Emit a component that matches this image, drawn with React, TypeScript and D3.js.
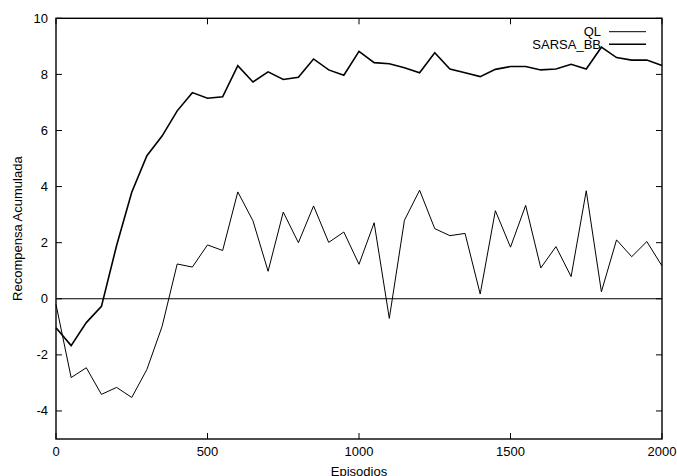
import React from "react";
import * as d3 from "d3";

const episodes: number[] = d3.range(0, 2001, 50);

const qlValues: number[] = [
  -0.2, -2.81, -2.46, -3.41, -3.16, -3.52, -2.52, -0.99, 1.24, 1.13,
  1.92, 1.72, 3.81, 2.78, 0.98, 3.09, 2.0, 3.31, 2.01, 2.38,
  1.23, 2.71, -0.7, 2.8, 3.87, 2.5, 2.25, 2.33, 0.17, 3.14,
  1.84, 3.33, 1.1, 1.86, 0.79, 3.85, 0.25, 2.1, 1.5, 2.04, 1.17,
];

const sarsaValues: number[] = [
  -1.03, -1.67, -0.85, -0.27, 1.9, 3.8, 5.1, 5.8, 6.7, 7.35,
  7.15, 7.2, 8.31, 7.73, 8.09, 7.82, 7.9, 8.55, 8.16, 7.97,
  8.82, 8.42, 8.38, 8.24, 8.06, 8.77, 8.19, 8.06, 7.92, 8.18,
  8.28, 8.28, 8.16, 8.19, 8.36, 8.19, 8.97, 8.6, 8.51, 8.51, 8.32,
];

const xTicks: number[] = [0, 500, 1000, 1500, 2000];
const yTicks: number[] = [-4, -2, 0, 2, 4, 6, 8, 10];
const seriesNames: string[] = ["QL", "SARSA_BB"];

const W = 677;
const H = 476;
const left = 56;
const right = 662;
const top = 18.3;
const bottom = 439;
const font = "'Liberation Sans', Arial, Helvetica, sans-serif";

export default function App() {
  const x = d3.scaleLinear().domain([0, 2000]).range([left, right]);
  const y = d3.scaleLinear().domain([-5, 10]).range([bottom, top]);
  const line = d3
    .line<number>()
    .x((_, i) => x(episodes[i]))
    .y((d) => y(d));

  const tickLen = 6;
  return (
    <svg
      width={W}
      height={H}
      style={{ position: "absolute", left: 0, top: 0, background: "#fff" }}
      fontFamily={font}
    >
      <rect x={0} y={0} width={W} height={H} fill="#fff" />
      {/* zero line */}
      <line x1={left} x2={right} y1={y(0)} y2={y(0)} stroke="#000" strokeWidth={1.1} />
      {/* ticks */}
      {xTicks.map((t) => (
        <g key={"xt" + t}>
          <line x1={x(t)} x2={x(t)} y1={bottom} y2={bottom - tickLen} stroke="#000" strokeWidth={1} />
          <line x1={x(t)} x2={x(t)} y1={top} y2={top + tickLen} stroke="#000" strokeWidth={1} />
          <text x={x(t)} y={456} textAnchor="middle" fontSize={13} fill="#000">
            {t}
          </text>
        </g>
      ))}
      {yTicks.map((t) => (
        <g key={"yt" + t}>
          <line x1={left} x2={left + tickLen} y1={y(t)} y2={y(t)} stroke="#000" strokeWidth={1} />
          <line x1={right} x2={right - tickLen} y1={y(t)} y2={y(t)} stroke="#000" strokeWidth={1} />
          <text x={48} y={y(t) + 4.5} textAnchor="end" fontSize={13} fill="#000">
            {t}
          </text>
        </g>
      ))}
      {/* series */}
      <path d={line(qlValues) || ""} fill="none" stroke="#000" strokeWidth={1} strokeLinejoin="miter" />
      <path d={line(sarsaValues) || ""} fill="none" stroke="#000" strokeWidth={1.6} strokeLinejoin="miter" />
      {/* frame */}
      <rect x={left} y={top} width={right - left} height={bottom - top} fill="none" stroke="#000" strokeWidth={1.4} />
      {/* legend */}
      <text x={601} y={36} textAnchor="end" fontSize={13} fill="#000">
        {seriesNames[0]}
      </text>
      <line x1={609} x2={646} y1={31.7} y2={31.7} stroke="#000" strokeWidth={1} />
      <text x={601} y={48.8} textAnchor="end" fontSize={13} fill="#000">
        {seriesNames[1]}
      </text>
      <line x1={609} x2={646} y1={44.3} y2={44.3} stroke="#000" strokeWidth={1.6} />
      {/* axis labels */}
      <text x={x(1000)} y={476} textAnchor="middle" fontSize={13} fill="#000">
        Episodios
      </text>
      <text
        transform={`translate(22, ${(top + bottom) / 2}) rotate(-90)`}
        textAnchor="middle"
        fontSize={13}
        fill="#000"
      >
        Recompensa Acumulada
      </text>
    </svg>
  );
}
